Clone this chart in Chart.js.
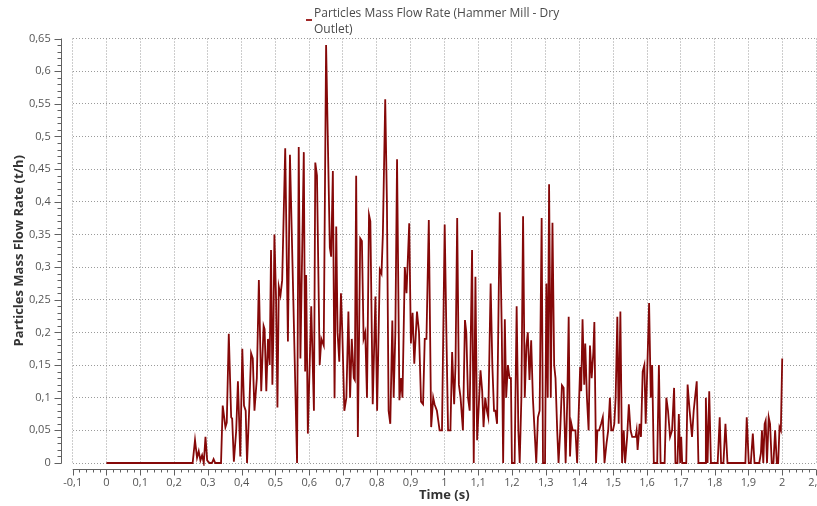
<!DOCTYPE html>
<html lang="en">
<head>
<meta charset="UTF-8">
<title>Particles Mass Flow Rate</title>
<script src="https://cdn.jsdelivr.net/npm/chart.js@4.4.0/dist/chart.umd.min.js"></script>
<style>
    body {
        margin: 0;
        background: #fff;
        overflow: hidden;
        font-family: "Open Sans", Arial, sans-serif;
    }
    #wrap {
        position: relative;
        width: 830px;
        height: 506px;
    }
    #legend {
        position: absolute;
        left: 314px;
        top: 5px;
        font-size: 12px;
        line-height: 16px;
        color: #4a4a4a;
        white-space: nowrap;
    }
    #legend .mark {
        position: absolute;
        left: -8px;
        top: 14px;
        width: 6px;
        height: 2px;
        background: #a02828;
    }
</style>
</head>
<body>
<div id="wrap">
    <canvas id="chartCanvas" width="830" height="506"></canvas>
    <div id="legend"><span class="mark"></span>Particles Mass Flow Rate (Hammer Mill - Dry<br>Outlet)</div>
</div>
<script>
// time (s)
const times = [
    0, 0.255, 0.262, 0.268, 0.273, 0.278, 0.283, 0.288, 0.293, 0.298, 0.305, 0.312, 0.317, 0.322, 0.339, 0.344,
    0.352, 0.356, 0.362, 0.369, 0.372, 0.377, 0.384, 0.389, 0.396, 0.402, 0.407, 0.412, 0.416, 0.423, 0.428, 0.433,
    0.438, 0.445, 0.451, 0.458, 0.465, 0.468, 0.473, 0.478, 0.483, 0.487, 0.491, 0.494, 0.497, 0.502, 0.506, 0.510,
    0.515, 0.520, 0.529, 0.537, 0.543, 0.553, 0.564, 0.569, 0.574, 0.584, 0.588, 0.591, 0.596, 0.606, 0.614, 0.618,
    0.623, 0.631, 0.636, 0.643, 0.650,
    0.661, 0.665, 0.670, 0.675, 0.680, 0.684, 0.689, 0.694, 0.698, 0.704, 0.710, 0.716, 0.721, 0.726, 0.732, 0.735,
    0.739, 0.744, 0.751, 0.756, 0.761, 0.766, 0.771, 0.777, 0.781, 0.788, 0.796, 0.801, 0.809, 0.814, 0.818, 0.825,
    0.830, 0.835, 0.840, 0.846, 0.850, 0.855, 0.860, 0.867, 0.872, 0.876, 0.883, 0.888, 0.896, 0.901, 0.906, 0.911,
    0.919, 0.925, 0.931, 0.937, 0.942, 0.947, 0.954, 0.961, 0.967, 0.971, 0.978, 0.986, 0.993,
    1.001, 1.006, 1.011, 1.018, 1.023, 1.029, 1.033, 1.038, 1.043, 1.048, 1.055, 1.061, 1.065, 1.070, 1.075, 1.082,
    1.087, 1.092, 1.097, 1.107, 1.112, 1.116, 1.121, 1.126, 1.130, 1.137, 1.142, 1.147, 1.151, 1.156, 1.164, 1.170,
    1.174, 1.179, 1.183, 1.188, 1.193, 1.197, 1.200, 1.208, 1.214, 1.219, 1.223, 1.228, 1.233, 1.238, 1.243, 1.247,
    1.252, 1.257, 1.262, 1.267, 1.272, 1.277, 1.282, 1.288, 1.292, 1.298, 1.302, 1.306, 1.310, 1.315, 1.320, 1.325,
    1.329, 1.334, 1.338, 1.343, 1.348, 1.353, 1.359, 1.364, 1.368, 1.372, 1.376, 1.380, 1.385, 1.388, 1.393, 1.399,
    1.402, 1.405, 1.409, 1.414, 1.417, 1.422, 1.427, 1.431, 1.436, 1.441, 1.444, 1.449, 1.453, 1.458, 1.464, 1.469,
    1.474, 1.480, 1.485, 1.490, 1.494, 1.499, 1.503, 1.507, 1.512, 1.516, 1.521, 1.526, 1.531, 1.535, 1.541, 1.546,
    1.551, 1.556, 1.561, 1.566, 1.569, 1.572, 1.578, 1.582, 1.587, 1.592, 1.596, 1.601, 1.606, 1.611, 1.615, 1.620,
    1.625, 1.630, 1.635, 1.640, 1.647, 1.652, 1.657, 1.662, 1.668, 1.674, 1.680, 1.684, 1.690, 1.694, 1.698, 1.701,
    1.704, 1.716, 1.720, 1.726, 1.733, 1.738, 1.742, 1.747, 1.752, 1.772, 1.774, 1.779, 1.784, 1.789, 1.809, 1.815,
    1.819, 1.826, 1.832, 1.838, 1.891, 1.895, 1.901, 1.907, 1.913, 1.918, 1.932, 1.937, 1.940, 1.944, 1.948, 1.951,
    1.955, 1.960, 1.964, 1.969, 1.974, 1.979, 1.984, 1.988, 1.992, 1.996, 2.000
];

// particles mass flow rate (t/h)
const flowRate = [
    0, 0, 0.035, 0.008, 0.018, 0.004, 0.012, 0, 0.04, 0.004, 0, 0, 0.006, 0, 0, 0.088,
    0.055, 0.062, 0.198, 0.07, 0.068, 0.002, 0.05, 0.125, 0.01, 0.175, 0.088, 0.08, 0, 0.09, 0.168, 0.16,
    0.08, 0.13, 0.28, 0.11, 0.21, 0.205, 0.11, 0.19, 0.15, 0.326, 0.12, 0.2, 0.35, 0.25, 0.085, 0.27,
    0.257, 0.28, 0.482, 0.186, 0.472, 0.25, 0, 0.484, 0.16, 0.476, 0.14, 0.288, 0.045, 0.24, 0.08, 0.46,
    0.44, 0.15, 0.19, 0.18, 0.64,
    0.33, 0.316, 0.447, 0.099, 0.362, 0.2, 0.155, 0.26, 0.2, 0.08, 0.1, 0.232, 0.1, 0.19, 0.13, 0.127,
    0.44, 0.04, 0.344, 0.34, 0.19, 0.2, 0.1, 0.38, 0.37, 0.09, 0.255, 0.08, 0.296, 0.29, 0.35, 0.557,
    0.4, 0.08, 0.06, 0.218, 0.1, 0.2, 0.465, 0.096, 0.13, 0.1, 0.3, 0.26, 0.367, 0.183, 0.23, 0.152,
    0.232, 0.2, 0.094, 0.09, 0.19, 0.19, 0.372, 0.055, 0.1, 0.09, 0.08, 0.05, 0.05,
    0.365, 0.2, 0.05, 0.05, 0.17, 0.09, 0.15, 0.375, 0.12, 0.1, 0.05, 0.219, 0.2, 0.1, 0.08, 0.326,
    0, 0.285, 0.035, 0.142, 0.11, 0.055, 0.1, 0.08, 0.07, 0.275, 0.15, 0.08, 0.08, 0.06, 0.384, 0.2,
    0, 0.22, 0.1, 0.15, 0.13, 0.13, 0, 0, 0.24, 0.05, 0, 0.1, 0.378, 0.1, 0.18, 0.2,
    0.127, 0.188, 0.1, 0.05, 0, 0.07, 0.08, 0.375, 0, 0, 0.275, 0.1, 0.427, 0.1, 0.368, 0.15,
    0.13, 0.05, 0, 0.05, 0.119, 0.115, 0, 0.1, 0.224, 0.01, 0.06, 0.05, 0.05, 0.05, 0, 0.1,
    0.147, 0.11, 0.22, 0.12, 0.183, 0.1, 0.05, 0.18, 0.13, 0.17, 0.216, 0, 0.05, 0.05, 0.06, 0.07,
    0, 0.03, 0.05, 0.1, 0.05, 0.05, 0.06, 0.1, 0.224, 0.06, 0.232, 0, 0.05, 0, 0.04, 0.09,
    0.05, 0.04, 0.04, 0.04, 0.05, 0.02, 0.06, 0.04, 0.14, 0.15, 0.06, 0.15, 0.245, 0.1, 0.15, 0,
    0, 0, 0.15, 0, 0, 0, 0.1, 0.08, 0.04, 0.05, 0.115, 0, 0, 0.075, 0, 0.04,
    0, 0, 0.12, 0.08, 0.04, 0.08, 0.1, 0.125, 0, 0, 0.1, 0, 0.11, 0, 0, 0.07,
    0, 0, 0.06, 0, 0, 0.07, 0, 0, 0.045, 0, 0, 0.015, 0.05, 0, 0.06, 0.065,
    0, 0.07, 0.06, 0, 0, 0.05, 0, 0, 0.055, 0.05, 0.16
];

const xMin = -0.1, xMax = 2.1, xStep = 0.1;
const yMin = 0, yMax = 0.65, yStep = 0.05;

// comma decimals like the original
function fmt(v) {
    return String(Number(v.toFixed(2))).replace('.', ',');
}

// axis lines sit a bit away from the plot, with minor ticks
const axisLines = {
    id: 'axisLines',
    afterDraw(chart) {
        const { ctx, chartArea: a, scales: { x, y } } = chart;
        ctx.save();
        ctx.strokeStyle = '#606060';
        ctx.lineWidth = 1;
        ctx.beginPath();
        const ax = Math.round(a.left) - 11.5;
        ctx.moveTo(ax, y.getPixelForValue(yMax));
        ctx.lineTo(ax, y.getPixelForValue(yMin) + 0.5);
        for (let i = 0; i <= 65; i++) {
            const py = Math.round(y.getPixelForValue(i / 100)) + 0.5;
            const len = i % 5 === 0 ? 7 : 4;
            ctx.moveTo(ax - len, py);
            ctx.lineTo(ax, py);
        }
        const ay = Math.round(a.bottom) + 6.5;
        ctx.moveTo(x.getPixelForValue(xMin), ay);
        ctx.lineTo(x.getPixelForValue(xMax), ay);
        for (let i = -5; i <= 105; i++) {
            const px = Math.round(x.getPixelForValue(i / 50)) + 0.5;
            const len = i % 5 === 0 ? 6 : 3;
            ctx.moveTo(px, ay);
            ctx.lineTo(px, ay + len);
        }
        ctx.stroke();
        ctx.restore();
    }
};

const ctx = document.getElementById('chartCanvas').getContext('2d');
new Chart(ctx, {
    type: 'line',
    data: {
        datasets: [{
            label: 'Particles Mass Flow Rate (Hammer Mill - Dry Outlet)',
            data: times.map((t, i) => ({ x: t, y: flowRate[i] })),
            borderColor: '#850808',
            borderWidth: 1.8,
            pointRadius: 0,
            tension: 0,
            clip: 3
        }]
    },
    options: {
        responsive: false,
        devicePixelRatio: 1,
        animation: false,
        layout: { padding: { left: 7.7, top: 38.5, right: 14, bottom: 0 } },
        plugins: {
            legend: { display: false },
            tooltip: { enabled: false }
        },
        scales: {
            x: {
                type: 'linear',
                min: xMin,
                max: xMax,
                afterFit: s => {
                    s.height = 43;
                    s.paddingLeft = 0;
                    s.paddingRight = 0;
                },
                ticks: {
                    stepSize: xStep,
                    autoSkip: false,
                    maxRotation: 0,
                    padding: 13,
                    color: '#555',
                    font: { family: 'Open Sans', size: 11 },
                    callback: v => fmt(v)
                },
                grid: { color: '#9a9a9a', drawTicks: false },
                border: { display: false, dash: [1, 2] },
                title: {
                    display: true,
                    text: 'Time (s)',
                    color: '#333',
                    font: { family: 'Open Sans', size: 13, weight: 'bold' },
                    padding: { top: 0, bottom: 3 }
                }
            },
            y: {
                min: yMin,
                max: yMax,
                afterFit: s => { s.width = 65; },
                ticks: {
                    stepSize: yStep,
                    padding: 22,
                    color: '#555',
                    font: { family: 'Open Sans', size: 11 },
                    callback: v => fmt(v)
                },
                grid: { color: '#9a9a9a', drawTicks: false },
                border: { display: false, dash: [1, 2] },
                title: {
                    display: true,
                    text: 'Particles Mass Flow Rate (t/h)',
                    color: '#333',
                    font: { family: 'Open Sans', size: 13, weight: 'bold' },
                    padding: { top: 4, bottom: 0 }
                }
            }
        }
    },
    plugins: [axisLines]
});
</script>
</body>
</html>
